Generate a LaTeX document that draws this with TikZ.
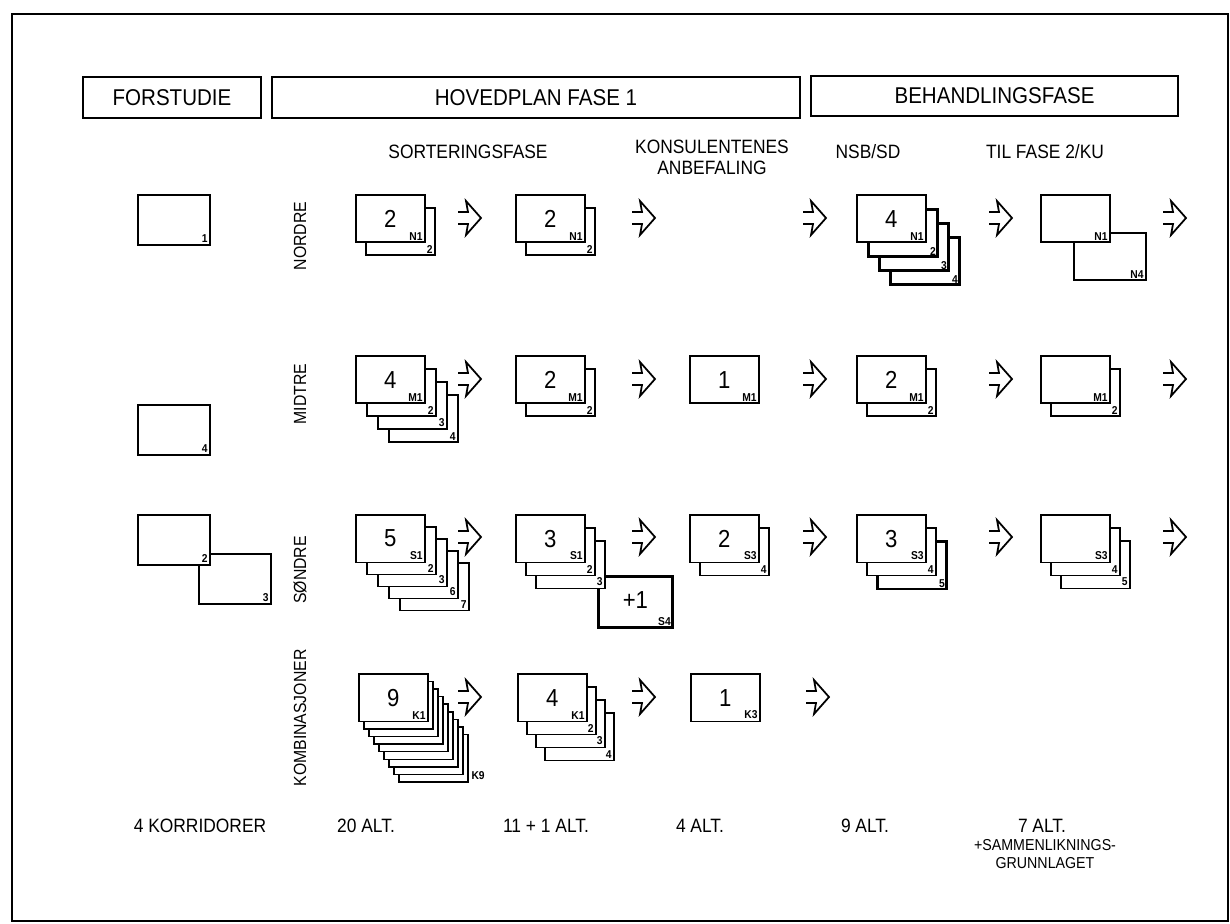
\documentclass[tikz,border=0pt]{standalone}
\usepackage{fontspec}
\setmainfont[FakeStretch=0.9]{Liberation Sans}
\usetikzlibrary{positioning}

% stack of cards: [front opts]{name}{x}{y}{dx}{dy}{k/label/style,...}{number}{sub}
\newcommand{\cardstack}[9][]{%
  \foreach \k/\lab/\sty in {#7} {
    \node[card,\sty,label={[sub]south east:\lab}] (#2-\k) at ({#3+\k*#5},{#4+\k*#6}) {};
  }
  \node[card,#1,label={[sub]south east:#9}] (#2) at (#3,#4) {#8};
}

\begin{document}
\begin{tikzpicture}[x=0.02cm,y=-0.02cm,
  phase/.style={draw,line width=1.1pt,inner sep=0pt,font=\fontsize{13}{15}\selectfont},
  card/.style={draw,fill=white,line width=0.9pt,anchor=north west,inner sep=0pt,
    minimum width=1.38cm,minimum height=0.95cm,font=\fontsize{14}{14}\selectfont},
  sub/.style={anchor=south east,inner sep=1.5pt,font=\bfseries\fontsize{6.5}{6.5}\selectfont},
  plain/.style={},
  heavy/.style={line width=1.6pt},
  head/.style={font=\fontsize{11}{12}\selectfont,align=center},
  row/.style={rotate=90,font=\fontsize{10}{10}\selectfont},
  hollow/.pic={\draw[line width=1pt,line join=miter] (0,-6) -- (10,-6) -- (8,-17) -- (23,0) -- (8,17) -- (10,6) -- (0,6);}]
\useasboundingbox (0,0) rectangle (1230,923);
\draw[line width=1.2pt] (12,14) rectangle (1228,921);

% phases
\node[phase,minimum width=3.56cm,minimum height=0.82cm] (forstudie) at (172,97.5) {FORSTUDIE};
\node[phase,minimum width=10.56cm,minimum height=0.82cm] (hovedplan) at (536,97.5) {HOVEDPLAN FASE 1};
\node[phase,minimum width=7.34cm,minimum height=0.80cm] (behandling) at (994.5,96) {BEHANDLINGSFASE};

\node[head] (sortering) at (468,152) {SORTERINGSFASE};
\node[head] (konsulent) at (712,157) {KONSULENTENES\\ANBEFALING};
\node[head] (nsbsd) at (868,152) {NSB/SD};
\node[head] (tilfase) at (1045,152) {TIL FASE 2/KU};

\node[row] (nordre) at (300,236) {NORDRE};
\node[row] (midtre) at (300,394) {MIDTRE};
\node[row] (sondre) at (300,570) {SØNDRE};
\node[row] (kombi) at (300,718) {KOMBINASJONER};

% forstudie
\node[card,minimum width=1.44cm,minimum height=1cm,label={[sub]south east:1}] (f1) at (137,194) {};
\node[card,minimum width=1.44cm,minimum height=1cm,label={[sub]south east:4}] (f4) at (137,404) {};
\node[card,minimum width=1.44cm,minimum height=1cm,label={[sub]south east:3}] (f3) at (198,553) {};
\node[card,minimum width=1.44cm,minimum height=1cm,label={[sub]south east:2}] (f2) at (137,514) {};

% nordre
\cardstack{n1}{355}{194}{10}{13}{1/2/plain}{2}{N1}
\cardstack{n2}{515}{194}{10}{13}{1/2/plain}{2}{N1}
\cardstack{n4}{856}{194}{11}{14}{3/4/heavy,2/3/heavy,1/2/heavy}{4}{N1}
\node[card,minimum width=1.44cm,label={[sub]south east:N4}] (n5b) at (1073,232) {};
\node[card,label={[sub]south east:N1}] (n5) at (1040,194) {};

% midtre
\cardstack{m1}{355}{355}{11}{13}{3/4/plain,2/3/plain,1/2/plain}{4}{M1}
\cardstack{m2}{515}{355}{10}{13}{1/2/plain}{2}{M1}
\node[card,label={[sub]south east:M1}] (m3) at (689,355) {1};
\cardstack{m4}{856}{355}{10}{13}{1/2/plain}{2}{M1}
\cardstack{m5}{1040}{355}{10}{13}{1/2/plain}{}{M1}

% sondre
\cardstack{s1}{355}{514}{11}{12}{4/7/plain,3/6/plain,2/3/plain,1/2/plain}{5}{S1}
\node[card,heavy,minimum width=1.48cm,minimum height=1.02cm,label={[sub]south east:S4}] (s2x) at (597,575) {\raisebox{2pt}{+1}\hspace{6pt}};
\cardstack{s2}{515}{514}{10}{13}{2/3/plain,1/2/plain}{3}{S1}
\cardstack{s3}{689}{514}{10}{13}{1/4/plain}{2}{S3}
\cardstack{s4}{856}{514}{10}{13}{2/5/heavy,1/4/plain}{3}{S3}
\cardstack{s5}{1040}{514}{10}{13}{2/5/plain,1/4/plain}{}{S3}

% kombinasjoner
\cardstack{k1}{358}{673}{5}{7.6}{8//plain,7//plain,6//plain,5//plain,4//plain,3//plain,2//plain,1//plain}{9}{K1}
\node[sub,anchor=south west] (k9) at (k1-8.south east) {K9};
\cardstack{k2}{517}{673}{9}{13}{3/4/plain,2/3/plain,1/2/plain}{4}{K1}
\node[card,label={[sub]south east:K3}] (k3) at (690,673) {1};

% arrows
\foreach \y in {218,379,537} {
  \foreach \x in {458,632,803,989,1163}
    \pic at (\x,\y) {hollow};
}
\foreach \x in {458,632,806}
  \pic at (\x,697) {hollow};

% totals
\node[head] (t0) at (200,826) {4 KORRIDORER};
\node[head] (t1) at (366,826) {20 ALT.};
\node[head] (t2) at (546,826) {11 + 1 ALT.};
\node[head] (t3) at (700,826) {4 ALT.};
\node[head] (t4) at (865,826) {9 ALT.};
\node[head] (t5) at (1042,826) {7 ALT.};
\node[font=\fontsize{9}{10}\selectfont,align=center] (t5b) at (1045,854) {+SAMMENLIKNINGS-\\GRUNNLAGET};
\end{tikzpicture}
\end{document}
